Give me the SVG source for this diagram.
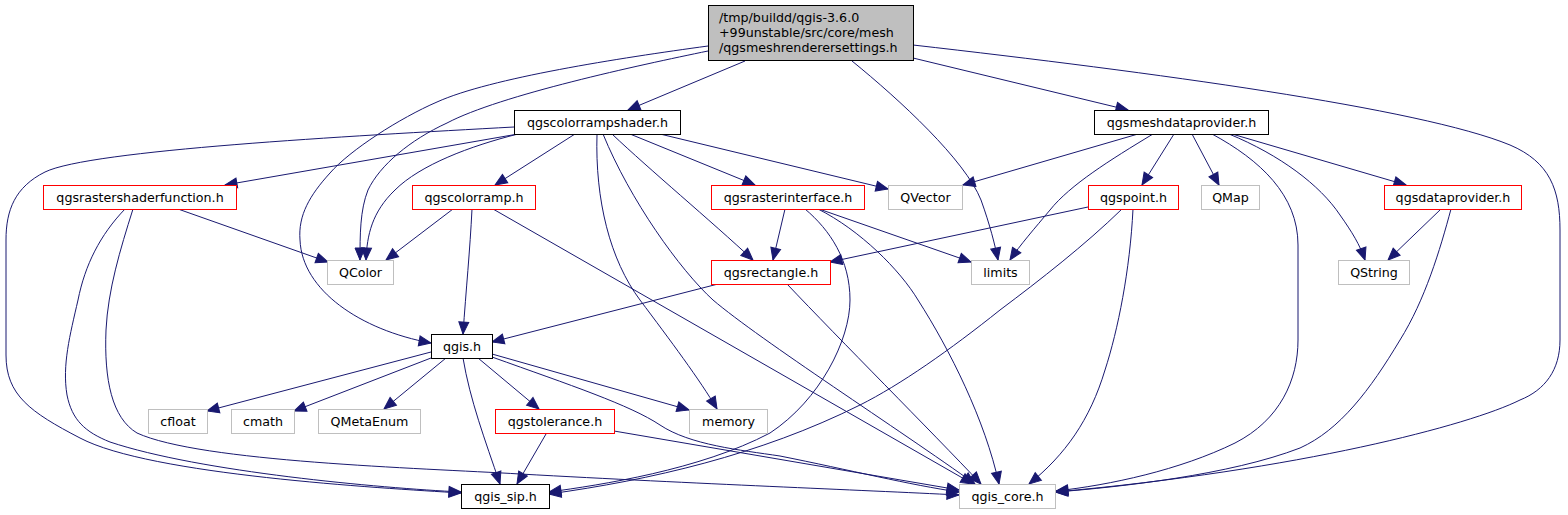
<svg xmlns="http://www.w3.org/2000/svg" width="1568" height="515" viewBox="0 0 1568 515">
<style>
.n rect{fill:#fff;stroke-width:1}
.b rect{stroke:#000}
.r rect{stroke:#ff0000}
.g rect{stroke:#bfbfbf}
.n text{font-family:"DejaVu Sans",sans-serif;font-size:12.67px;fill:#000;text-anchor:middle}
#e path{fill:none;stroke:#191970;stroke-width:1;marker-end:url(#a)}
</style>
<defs>
<marker id="a" markerWidth="13" markerHeight="11" refX="12" refY="5" orient="auto" markerUnits="userSpaceOnUse" overflow="visible"><path d="M0,0 L12,5 L0,10 z" fill="#191970" stroke="#191970" stroke-width="1"/></marker>
</defs>
<rect width="1568" height="515" fill="#fff"/>
<g id="e">
<path d="M745,61 L628,110"/>
<path d="M913,58 L1128,110"/>
<path d="M708,46 C620,58 490,78 437,102 C400,118 350,150 330,173 C310,195 298,215 300,240 C302,290 360,330 431,343"/>
<path d="M708,51 C640,65 500,95 447,123 C410,140 380,165 368,190 C360,210 360,235 360,260"/>
<path d="M852,61 C900,100 965,160 981,200 C990,225 995,245 998,260"/>
<path d="M913,45 C1150,72 1420,108 1510,145 C1550,162 1560,190 1560,230 L1560,340 C1560,370 1545,390 1520,400 C1470,425 1300,470 1055,492"/>
<path d="M518,134 L225,185"/>
<path d="M514,127 C350,136 90,150 45,172 C15,187 6,210 6,240 L6,355 C6,395 30,412 80,438 C150,475 380,488 461,493"/>
<path d="M518,134 C470,146 420,165 395,190 C372,212 367,235 366,260"/>
<path d="M575,134 L495,185"/>
<path d="M597,134 C595,200 610,260 640,300 C670,340 700,380 717,409"/>
<path d="M603,134 C630,200 680,270 713,300 C760,340 900,430 975,484"/>
<path d="M612,134 C650,170 710,220 753,260"/>
<path d="M630,134 L755,185"/>
<path d="M660,134 L888,189"/>
<path d="M178,209 L328,262"/>
<path d="M125,209 C100,235 85,265 78,300 C70,335 62,365 67,395 C72,420 85,432 110,442 C200,472 380,488 461,492"/>
<path d="M133,209 C120,250 108,290 106,330 C104,380 112,418 137,433 C200,462 420,468 520,474 C700,484 860,490 959,495"/>
<path d="M453,209 L386,260"/>
<path d="M472,209 C470,250 466,290 463,334"/>
<path d="M493,209 L973,484"/>
<path d="M785,209 L773,260"/>
<path d="M819,209 L971,262"/>
<path d="M805,209 C830,230 850,260 850,300 C850,340 820,400 770,433 C700,470 600,485 549,492"/>
<path d="M818,209 C860,230 900,270 918,300 C950,350 985,420 999,484"/>
<path d="M1088,207 L830,262"/>
<path d="M1122,209 C1085,245 1040,280 1000,310 C950,350 900,385 860,405 C760,455 650,480 549,494"/>
<path d="M1133,209 C1130,270 1118,330 1105,370 C1090,420 1065,455 1029,484"/>
<path d="M1138,134 L963,185"/>
<path d="M1153,134 C1110,160 1070,185 1050,210 C1035,228 1020,245 1010,260"/>
<path d="M1174,134 L1142,185"/>
<path d="M1192,134 L1219,185"/>
<path d="M1212,134 C1260,160 1298,195 1298,245 L1298,340 C1298,380 1280,420 1235,443 C1180,470 1110,485 1056,491"/>
<path d="M1229,134 C1280,155 1320,185 1340,215 C1352,232 1360,245 1365,260"/>
<path d="M1232,134 L1406,185"/>
<path d="M1441,209 L1388,260"/>
<path d="M1451,209 C1440,250 1425,300 1400,340 C1370,390 1340,430 1300,448 C1230,475 1120,487 1056,492"/>
<path d="M718,284 L492,342"/>
<path d="M787,284 C840,340 930,430 981,484"/>
<path d="M431,352 L207,411"/>
<path d="M431,358 L294,411"/>
<path d="M446,358 L384,409"/>
<path d="M478,358 L539,409"/>
<path d="M463,358 C470,400 485,440 500,484"/>
<path d="M492,354 L689,410"/>
<path d="M492,357 C570,385 630,405 660,425 C690,445 740,450 780,456 C850,470 910,485 959,492"/>
<path d="M546,434 L517,484"/>
<path d="M614,431 L959,490"/>
</g>
<g id="root" class="n b"><rect x="708.5" y="5.5" width="205" height="55" style="fill:#bfbfbf"/><text x="719" y="22.3" style="text-anchor:start">/tmp/buildd/qgis-3.6.0</text><text x="719" y="37.2" style="text-anchor:start">+99unstable/src/core/mesh</text><text x="719" y="52.1" style="text-anchor:start">/qgsmeshrenderersettings.h</text></g>
<g id="crs" class="n b"><rect x="514.5" y="110.5" width="166" height="24"/><text x="597.5" y="127">qgscolorrampshader.h</text></g>
<g id="mdp" class="n b"><rect x="1094.5" y="110.5" width="174" height="24"/><text x="1181.5" y="127">qgsmeshdataprovider.h</text></g>
<g id="rsf" class="n r"><rect x="43.5" y="185.5" width="193" height="24"/><text x="140" y="202">qgsrastershaderfunction.h</text></g>
<g id="cr" class="n r"><rect x="412.5" y="185.5" width="123" height="24"/><text x="474" y="202">qgscolorramp.h</text></g>
<g id="ri" class="n r"><rect x="711.5" y="185.5" width="153" height="24"/><text x="788" y="202">qgsrasterinterface.h</text></g>
<g id="qvector" class="n g"><rect x="888.5" y="185.5" width="74" height="24"/><text x="925.5" y="202">QVector</text></g>
<g id="pt" class="n r"><rect x="1088.5" y="185.5" width="90" height="24"/><text x="1133.5" y="202">qgspoint.h</text></g>
<g id="qmap" class="n g"><rect x="1201.5" y="185.5" width="58" height="24"/><text x="1230.5" y="202">QMap</text></g>
<g id="dp" class="n r"><rect x="1384.5" y="185.5" width="137" height="24"/><text x="1453" y="202">qgsdataprovider.h</text></g>
<g id="qcolor" class="n g"><rect x="327.5" y="260.5" width="66" height="24"/><text x="360.5" y="277">QColor</text></g>
<g id="rect" class="n r"><rect x="711.5" y="260.5" width="119" height="24"/><text x="771" y="277">qgsrectangle.h</text></g>
<g id="limits" class="n g"><rect x="971.5" y="260.5" width="58" height="24"/><text x="1000.5" y="277">limits</text></g>
<g id="qstring" class="n g"><rect x="1338.5" y="260.5" width="71" height="24"/><text x="1374" y="277">QString</text></g>
<g id="qgis" class="n b"><rect x="431.5" y="334.5" width="61" height="24"/><text x="462" y="351">qgis.h</text></g>
<g id="cfloat" class="n g"><rect x="148.5" y="409.5" width="59" height="24"/><text x="178" y="426">cfloat</text></g>
<g id="cmath" class="n g"><rect x="231.5" y="409.5" width="63" height="24"/><text x="263" y="426">cmath</text></g>
<g id="qmetaenum" class="n g"><rect x="318.5" y="409.5" width="102" height="24"/><text x="369.5" y="426">QMetaEnum</text></g>
<g id="tol" class="n r"><rect x="495.5" y="409.5" width="119" height="24"/><text x="555" y="426">qgstolerance.h</text></g>
<g id="memory" class="n g"><rect x="689.5" y="409.5" width="78" height="24"/><text x="728.5" y="426">memory</text></g>
<g id="sip" class="n b"><rect x="461.5" y="484.5" width="88" height="24"/><text x="505.5" y="501">qgis_sip.h</text></g>
<g id="core" class="n g"><rect x="959.5" y="484.5" width="96" height="24"/><text x="1007.5" y="501">qgis_core.h</text></g>
</svg>
